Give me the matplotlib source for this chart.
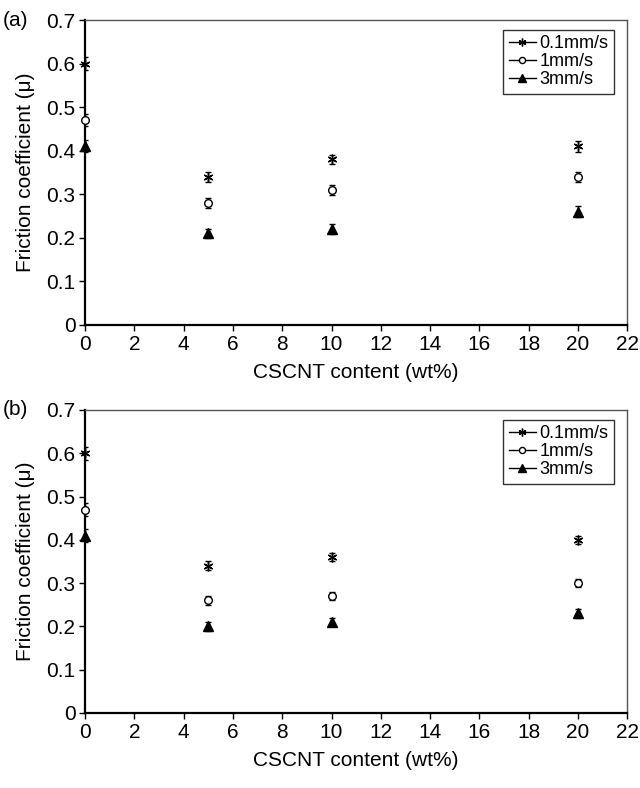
import matplotlib.pyplot as plt
from matplotlib.lines import Line2D

plt.rcParams['font.family'] = ['Liberation Sans', 'DejaVu Sans']

# CNT content (wt%)
content = [0, 5, 10, 20]
speeds = ['0.1mm/s', '1mm/s', '3mm/s']

# panel (a)
mu_a_01 = [0.60, 0.34, 0.38, 0.41]
mu_a_1 = [0.47, 0.28, 0.31, 0.34]
mu_a_3 = [0.41, 0.21, 0.22, 0.26]
err_a = [0.014, 0.011, 0.011, 0.012]

# panel (b)
mu_b_01 = [0.60, 0.34, 0.36, 0.40]
mu_b_1 = [0.47, 0.26, 0.27, 0.30]
mu_b_3 = [0.41, 0.20, 0.21, 0.23]
err_b = [0.015, 0.01, 0.01, 0.01]

markers = [(6, 2, 0), 'o', '^']
mfaces = ['black', 'white', 'black']
msizes = [7, 5.5, 6.5]

fig = plt.figure(figsize=(6.4, 7.88), dpi=100)
ax_a = fig.add_axes([0.133, 0.5876, 0.847, 0.387])
ax_b = fig.add_axes([0.133, 0.0952, 0.847, 0.3845])

panels = [(ax_a, [mu_a_01, mu_a_1, mu_a_3], err_a, '(a)'),
          (ax_b, [mu_b_01, mu_b_1, mu_b_3], err_b, '(b)')]

for ax, series, err, tag in panels:
    for vals, m, fc, ms in zip(series, markers, mfaces, msizes):
        ax.errorbar(content, vals, yerr=err, fmt='none', ecolor='black',
                    elinewidth=1, capsize=2.5, capthick=1, zorder=3)
        ax.plot(content, vals, linestyle='none', marker=m, color='black',
                markerfacecolor=fc, markeredgecolor='black', markersize=ms,
                markeredgewidth=1, zorder=4, clip_on=False)

    ax.set_xlim(0, 22)
    ax.set_ylim(0, 0.7)
    ax.set_xticks(range(0, 23, 2))
    ax.set_yticks([0, 0.1, 0.2, 0.3, 0.4, 0.5, 0.6, 0.7])
    ax.set_yticklabels(['0', '0.1', '0.2', '0.3', '0.4', '0.5', '0.6', '0.7'])
    ax.tick_params(direction='out', length=4, width=1, labelsize=15, colors='black', pad=3)
    ax.spines['left'].set_linewidth(1.6)
    ax.spines['bottom'].set_linewidth(1.6)
    ax.spines['top'].set_color('#555555')
    ax.spines['right'].set_color('#555555')
    ax.spines['top'].set_linewidth(1)
    ax.spines['right'].set_linewidth(1)
    ax.set_xlabel('CSCNT content (wt%)', fontsize=15, labelpad=7)
    ax.set_ylabel('Friction coefficient (\u03bc)', fontsize=15, labelpad=8)

    handles = [Line2D([0], [0], color='black', lw=1, marker=m, markerfacecolor=fc,
                      markeredgecolor='black', markersize=ms * 0.8)
                   for m, fc, ms in zip(markers, mfaces, msizes)]
    leg = ax.legend(handles, speeds, loc='upper right', bbox_to_anchor=(0.985, 0.985),
                    fontsize=13, frameon=True, fancybox=False, handlelength=1.5,
                    handletextpad=0.2, borderpad=0.3, labelspacing=0.05,
                    borderaxespad=0.3)
    leg.get_frame().set_edgecolor('black')
    leg.get_frame().set_linewidth(1)

    pos = ax.get_position()
    fig.text(0.005, pos.y1, tag, fontsize=15, va='center', ha='left')

fig.savefig('out.png', dpi=100)
